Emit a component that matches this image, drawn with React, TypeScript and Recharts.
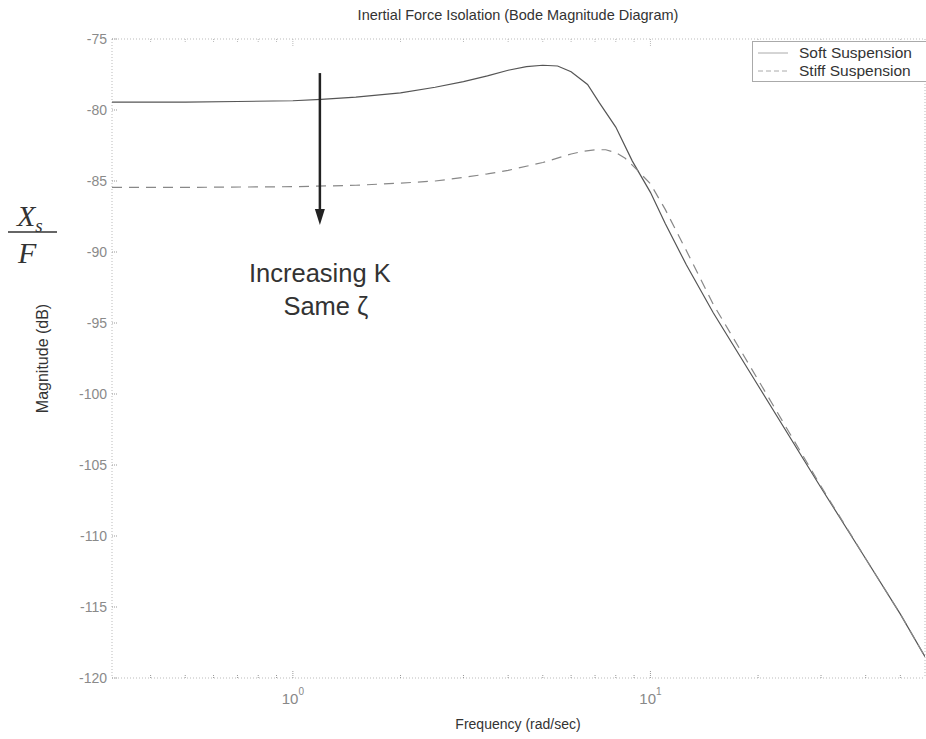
import React from "react";
import {
  LineChart,
  Line,
  XAxis,
  YAxis,
  CartesianGrid,
  Legend,
  ReferenceLine,
  ReferenceDot,
} from "recharts";

// frequencies in rad/sec, magnitudes in dB
const freqSoft = [0.312, 0.5, 0.7, 1.0, 1.2, 1.5, 2.0, 2.5, 3.0, 3.5, 4.0, 4.5, 5.0, 5.5, 6.0, 6.67, 7.2, 8.0, 8.9, 10, 11, 12.6, 15, 20, 30, 40, 50, 58.6];
const magSoft = [-79.45, -79.45, -79.4, -79.35, -79.25, -79.1, -78.8, -78.4, -78.0, -77.6, -77.2, -76.95, -76.85, -76.9, -77.3, -78.2, -79.5, -81.2, -83.6, -85.8, -88.0, -90.9, -94.3, -99.4, -106.6, -111.6, -115.5, -118.5];

const freqStiff = [0.312, 0.5, 1.0, 1.5, 2.0, 2.5, 3.0, 3.5, 4.0, 5.0, 6.0, 6.5, 7.0, 7.5, 8.0, 8.5, 9.0, 10, 11, 12.6, 15, 20, 30, 40, 50, 58.6];
const magStiff = [-85.45, -85.45, -85.4, -85.3, -85.15, -85.0, -84.75, -84.5, -84.25, -83.7, -83.1, -82.9, -82.8, -82.8, -83.0, -83.4, -84.0, -85.2, -87.0, -89.9, -93.7, -99.0, -106.5, -111.6, -115.5, -118.5];

const xTicks = [0.4, 0.5, 0.6, 0.7, 0.8, 0.9, 1, 2, 3, 4, 5, 6, 7, 8, 9, 10, 20, 30, 40, 50];
const majorX = [1, 10];
const yTicks = [-120, -115, -110, -105, -100, -95, -90, -85, -80, -75];

const softData = freqSoft.map((w, i) => ({ w, mag: magSoft[i] }));
const stiffData = freqStiff.map((w, i) => ({ w, mag: magStiff[i] }));

const W = 926;
const H = 739;
const PLOT_LEFT = 112;
const PLOT_TOP = 39;
const PLOT_BOTTOM = 678;
const font = "'Liberation Sans', Arial, sans-serif";
const serif = "'Liberation Serif', 'Times New Roman', serif";

function XTick(props: any) {
  const { payload } = props;
  const x = payload.coordinate;
  const major = majorX.includes(payload.value);
  const len = major ? 8 : 4;
  return (
    <g>
      <line x1={x} x2={x} y1={PLOT_BOTTOM} y2={PLOT_BOTTOM - len} stroke="#999" strokeDasharray="1 1" />
      <line x1={x} x2={x} y1={PLOT_TOP} y2={PLOT_TOP + len} stroke="#bbb" strokeDasharray="1 1" />
      {major && (
        <text x={x} y={704} textAnchor="middle" fill="#888" fontFamily={font} fontSize={15}>
          <tspan>10</tspan>
          <tspan dy={-9} fontSize={10}>{Math.round(Math.log10(payload.value))}</tspan>
        </text>
      )}
    </g>
  );
}

function YTick(props: any) {
  const { payload } = props;
  const y = payload.coordinate;
  return (
    <g>
      <line x1={PLOT_LEFT} x2={PLOT_LEFT + 5} y1={y} y2={y} stroke="#999" strokeDasharray="1 1" />
      <text x={107} y={y + 5} textAnchor="end" fill="#8a8a8a" fontFamily={font} fontSize={14}>
        {payload.value}
      </text>
    </g>
  );
}

function YLabel(props: any) {
  const vb = props.viewBox || {};
  const cy = (vb.y ?? PLOT_TOP) + (vb.height ?? 639) / 2;
  return (
    <g>
      <text
        x={48}
        y={cy}
        transform={`rotate(-90 48 ${cy})`}
        textAnchor="middle"
        fill="#333"
        fontFamily={font}
        fontSize={16}
      >
        Magnitude (dB)
      </text>
      <text x={17} y={226} fontFamily={serif} fontStyle="italic" fontSize={30} fill="#333">
        X
        <tspan dy={6} fontSize={19}>s</tspan>
      </text>
      <line x1={8} x2={57} y1={232} y2={232} stroke="#333" strokeWidth={1.6} />
      <text x={18} y={263} fontFamily={serif} fontStyle="italic" fontSize={30} fill="#333">
        F
      </text>
    </g>
  );
}

function ArrowShape(props: any) {
  const { x1, y1, x2, y2 } = props;
  return (
    <g>
      <line x1={x1} y1={y1} x2={x2} y2={y2 - 12} stroke="#222" strokeWidth={2.5} />
      <polygon points={`${x2 - 5},${y2 - 16} ${x2 + 5},${y2 - 16} ${x2},${y2}`} fill="#222" />
    </g>
  );
}

function NoteShape(props: any) {
  const { cx, cy } = props;
  return (
    <text x={cx} y={cy} textAnchor="middle" fill="#333" fontFamily={font} fontSize={25.5}>
      <tspan x={cx}>Increasing K</tspan>
      <tspan x={cx + 6} dy={33}>Same ζ</tspan>
    </text>
  );
}

function LegendBox() {
  const row = (dash: string | undefined, color: string, label: string) => (
    <div style={{ display: "flex", alignItems: "center", height: 18 }}>
      <svg width={41} height={10} style={{ marginLeft: 5 }}>
        <line x1={0} x2={30} y1={5} y2={5} stroke={color} strokeDasharray={dash} />
      </svg>
      <span style={{ fontFamily: font, fontSize: 15.5, color: "#333" }}>{label}</span>
    </div>
  );
  return (
    <div
      style={{
        width: 178,
        height: 41,
        border: "1px solid #aaa",
        background: "#fff",
        boxSizing: "border-box",
        paddingTop: 2,
      }}
    >
      {row(undefined, "#aaa", "Soft Suspension")}
      {row("5 3", "#aaa", "Stiff Suspension")}
    </div>
  );
}

export default function App() {
  return (
    <div style={{ position: "absolute", left: 0, top: 0, width: W, height: H, background: "#fff", overflow: "hidden" }}>
      <svg width={W} height={H} style={{ position: "absolute", left: 0, top: 0, pointerEvents: "none" }}>
        <text x={518} y={20} textAnchor="middle" fill="#333" fontFamily={font} fontSize={14.5}>
          Inertial Force Isolation (Bode Magnitude Diagram)
        </text>
        <text x={518} y={729} textAnchor="middle" fill="#333" fontFamily={font} fontSize={14}>
          Frequency (rad/sec)
        </text>
      </svg>
      <LineChart
        width={W}
        height={H}
        margin={{ top: PLOT_TOP, right: 1, bottom: 0, left: 0 }}
        style={{ position: "absolute", left: 0, top: 0 }}
      >
        <CartesianGrid
          stroke="#bbb"
          strokeDasharray="1 2"
          horizontalCoordinatesGenerator={({ offset }: any) => [offset.top, offset.top + offset.height]}
          verticalCoordinatesGenerator={({ offset }: any) => [offset.left, offset.left + offset.width]}
        />
        <XAxis
          dataKey="w"
          type="number"
          scale="log"
          domain={[0.312, 58.6]}
          allowDataOverflow
          ticks={xTicks}
          interval={0}
          tick={<XTick />}
          tickLine={false}
          axisLine={false}
          height={H - PLOT_BOTTOM}
        />
        <YAxis
          type="number"
          domain={[-120, -75]}
          ticks={yTicks}
          interval={0}
          tick={<YTick />}
          tickLine={false}
          axisLine={false}
          width={PLOT_LEFT}
          label={<YLabel />}
        />
        <Legend
          layout="vertical"
          align="center"
          verticalAlign="middle"
          wrapperStyle={{ position: "absolute", left: 752, top: 41, width: 178 }}
          content={() => <LegendBox />}
        />
        <Line
          data={softData}
          dataKey="mag"
          name="Soft Suspension"
          type="linear"
          stroke="#555"
          strokeWidth={1.2}
          dot={false}
          isAnimationActive={false}
        />
        <Line
          data={stiffData}
          dataKey="mag"
          name="Stiff Suspension"
          type="linear"
          stroke="#888"
          strokeWidth={1.2}
          strokeDasharray="10 7"
          dot={false}
          isAnimationActive={false}
        />
        <ReferenceLine
          segment={[
            { x: 1.19, y: -77.4 },
            { x: 1.19, y: -88.1 },
          ]}
          shape={<ArrowShape />}
          ifOverflow="visible"
        />
        <ReferenceDot x={1.19} y={-92.1} r={0} shape={<NoteShape />} ifOverflow="visible" />
      </LineChart>
    </div>
  );
}
